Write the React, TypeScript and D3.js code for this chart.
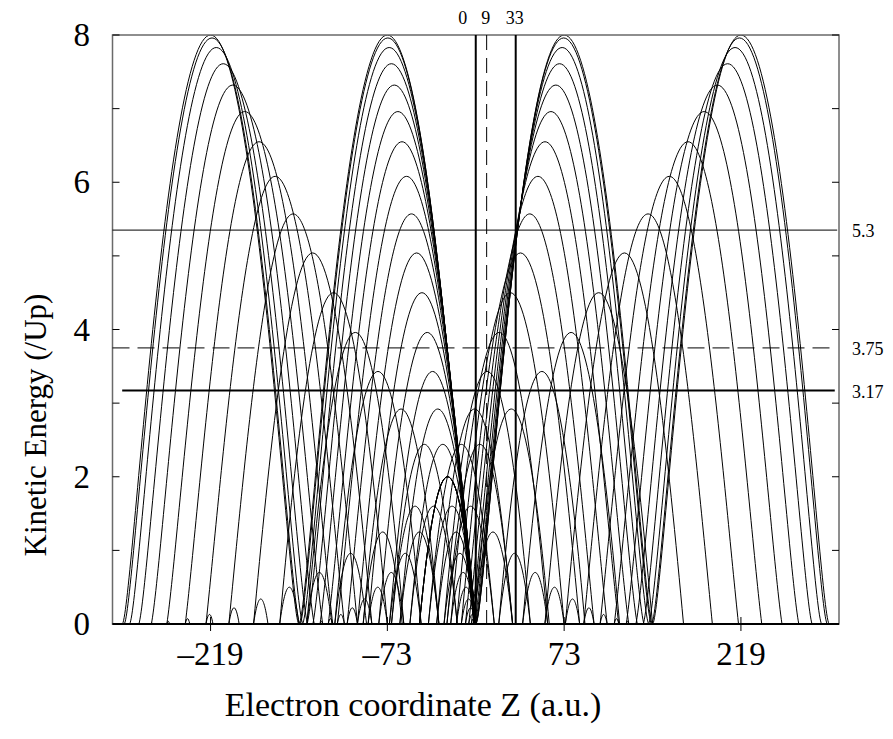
import React from "react";
import * as d3 from "d3";

// Classical electron trajectories, one per launch phase (90..270 deg, step 6).
// Each arc: [z where it starts, z where it ends, peak kinetic energy / Up]
const firstArcs: [number, number, number][] = [
  [0, -146, 8], [0, -145.2, 7.96], [0, -143.0, 7.83], [0, -139.3, 7.61], [0, -134.5, 7.32],
  [0, -128.6, 6.96], [0, -121.8, 6.55], [0, -114.3, 6.08], [0, -106.2, 5.57], [0, -97.7, 5.04],
  [0, -88.9, 4.5], [0, -80.1, 3.96], [0, -71.3, 3.43], [0, -62.7, 2.92], [0, -54.4, 2.44],
  [0, -46.5, 2.0], [0, -39.1, 1.6], [0, -32.3, 1.25], [0, -26.2, 0.96], [0, -20.7, 0.7],
  [0, -15.9, 0.5], [0, -11.9, 0.34], [0, -8.5, 0.22], [0, -5.8, 0.13], [0, -3.7, 0.073],
  [0, -2.2, 0.036], [0, -1.1, 0.015],
];

const secondArcs: [number, number, number][] = [
  [-134.5, -133.4, 0.015], [-128.6, -126.4, 0.036], [-121.8, -118.1, 0.073], [-114.3, -108.5, 0.13],
  [-106.2, -97.7, 0.22], [-97.7, -85.8, 0.34], [-88.9, -73.0, 0.5], [-80.1, -59.4, 0.7],
  [-71.3, -45.1, 0.96], [-62.7, -30.4, 1.25], [-54.4, -15.3, 1.6], [-46.5, 0, 2.0],
  [-39.1, 15.3, 2.44], [-32.3, 30.4, 2.92], [-26.2, 45.1, 3.43], [-20.7, 59.4, 3.96],
  [-15.9, 73.0, 4.5], [-11.9, 85.8, 5.04], [-8.5, 97.7, 5.57], [-5.8, 108.5, 6.08],
  [-3.7, 118.1, 6.55], [-2.2, 126.4, 6.96], [-1.1, 133.4, 7.32], [-0.5, 138.9, 7.61],
  [-0.1, 142.8, 7.83], [0, 145.2, 7.96], [0, 146, 8],
];

const thirdArcs: [number, number, number][] = [
  [-146, -292, 8], [-145.2, -290.4, 7.96], [-142.8, -285.8, 7.83], [-138.9, -278.2, 7.61],
  [-133.4, -267.9, 7.32], [-126.4, -255.1, 6.96], [-118.1, -239.9, 6.55], [-108.5, -222.8, 6.08],
  [-97.7, -203.9, 5.57], [-85.8, -183.5, 5.04], [-73.0, -161.9, 4.5], [-59.4, -139.5, 3.96],
  [-45.1, -116.4, 3.43], [-30.4, -93.0, 2.92], [-15.3, -69.6, 2.44], [0, -46.5, 2.0],
  [15.3, -23.8, 1.6], [30.4, -2.0, 1.25], [45.1, 19.0, 0.96], [59.4, 38.7, 0.7],
  [73.0, 57.1, 0.5], [85.8, 74.0, 0.34], [97.7, 89.2, 0.22], [108.5, 102.7, 0.13],
  [118.1, 114.4, 0.073], [126.4, 124.3, 0.036], [133.4, 132.3, 0.015],
];

const fourthArcs: [number, number, number][] = [
  [-267.9, -266.8, 0.015], [-255.1, -252.9, 0.036], [-239.9, -236.2, 0.073], [-222.8, -217.0, 0.13],
  [-203.9, -195.4, 0.22], [-183.5, -171.6, 0.34], [-161.9, -146.0, 0.5], [-139.5, -118.8, 0.7],
  [-116.4, -90.2, 0.96], [-93.0, -60.7, 1.25], [-69.6, -30.5, 1.6], [-46.5, 0, 2.0],
  [-23.8, 30.5, 2.44], [-2.0, 60.7, 2.92], [19.0, 90.2, 3.43], [38.7, 118.8, 3.96],
  [57.1, 146.0, 4.5], [74.0, 171.6, 5.04], [89.2, 195.4, 5.57], [102.7, 217.0, 6.08],
  [114.4, 236.2, 6.55], [124.3, 252.9, 6.96], [132.3, 266.8, 7.32], [138.4, 277.7, 7.61],
  [142.7, 285.6, 7.83], [145.2, 290.4, 7.96], [146, 292, 8],
];

const xTicks = [-219, -73, 73, 219];
const xTickLabels = ["\u2013219", "\u201373", "73", "219"];
const yTicks = [0, 1, 2, 3, 4, 5, 6, 7, 8];
const yTickLabels = ["0", "2", "4", "6", "8"];

// marked positions (vertical) and energy levels (horizontal)
const markZ = [0, 9, 33];
const markZLabels = ["0", "9", "33"];
const levels = [5.35, 3.75, 3.17];
const levelLabels = ["5.3", "3.75", "3.17"];

const W = 893, H = 739;
const x = d3.scaleLinear().domain([-300, 300]).range([112.5, 839]);
const y = d3.scaleLinear().domain([0, 8]).range([624, 35]);
const serif = "'Liberation Serif', 'Times New Roman', serif";

// symmetric arc drawn as two cubic pieces; higher arcs get the sharper
// (narrower in the middle) shape seen in the picture
function arcPath(a: number, b: number, e: number) {
  const zm = (a + b) / 2;
  const sp = Math.sqrt(e / 2) - 1;
  const w = sp > 0 ? sp * sp : 0;
  const p1 = 1 / 3 + (0.514 - 1 / 3) * w;
  const p2x = 2 / 3 + (0.896 - 2 / 3) * w;
  const p2y = (2 / 3) * (1 - w);
  const pt = (u: number, v: number, end: number): [number, number] => [x(zm + u * (end - zm)), y(v * e)];
  const p = d3.path();
  const f0 = pt(1, 0, a);
  p.moveTo(f0[0], f0[1]);
  let c1 = pt(p2x, p2y, a), c2 = pt(p1, 1, a), m = pt(0, 1, a);
  p.bezierCurveTo(c1[0], c1[1], c2[0], c2[1], m[0], m[1]);
  c1 = pt(p1, 1, b); c2 = pt(p2x, p2y, b); const f1 = pt(1, 0, b);
  p.bezierCurveTo(c1[0], c1[1], c2[0], c2[1], f1[0], f1[1]);
  return p.toString();
}

export default function App() {
  const arcs = [...firstArcs, ...secondArcs, ...thirdArcs, ...fourthArcs];
  const x0 = x(-300), x1 = x(300), yTop = y(8), yBot = y(0);
  const markOffsets = [-13, -1, -1];
  return (
    <svg width={W} height={H} style={{ position: "absolute", left: 0, top: 0, background: "#fff" }}>
      <rect x={0} y={0} width={W} height={H} fill="#fff" />
      <defs>
        <clipPath id="plot">
          <rect x={x0} y={yTop} width={x1 - x0} height={yBot - yTop} />
        </clipPath>
      </defs>
      <g clipPath="url(#plot)">
        {arcs.map((d, i) => (
          <path key={i} d={arcPath(d[0], d[1], d[2])} fill="none" stroke="#000" strokeWidth={1} />
        ))}
      </g>

      {/* frame */}
      <rect x={x0} y={yTop} width={x1 - x0} height={yBot - yTop} fill="none" stroke="#6a6a6a" strokeWidth={1.5} />
      <line x1={x0} x2={x1} y1={yBot} y2={yBot} stroke="#000" strokeWidth={2} />

      {/* y ticks */}
      {yTicks.map((t) => (
        <g key={t}>
          <line x1={x0} x2={x0 + 7} y1={y(t)} y2={y(t)} stroke="#000" strokeWidth={1} />
          <line x1={x1 - 7} x2={x1} y1={y(t)} y2={y(t)} stroke="#000" strokeWidth={1} />
        </g>
      ))}
      {yTickLabels.map((l) => (
        <text key={l} x={90} y={y(+l) + 11} textAnchor="end" fontFamily={serif} fontSize={33}>{l}</text>
      ))}

      {/* x ticks */}
      {xTicks.map((t, i) => (
        <g key={t}>
          <line x1={x(t)} x2={x(t)} y1={yBot - 7} y2={yBot + 7} stroke="#000" strokeWidth={1} />
          <text x={x(t)} y={665} textAnchor="middle" fontFamily={serif} fontSize={33}>{xTickLabels[i]}</text>
        </g>
      ))}

      {/* marked z positions */}
      {markZ.map((z, i) => (
        <g key={z}>
          <line x1={x(z)} x2={x(z)} y1={yTop} y2={yBot} stroke="#000"
            strokeWidth={i === 1 ? 1 : 2} strokeDasharray={i === 1 ? "15 8" : undefined} />
          <text x={x(z) + markOffsets[i]} y={24} textAnchor="middle" fontFamily={serif} fontSize={18}>{markZLabels[i]}</text>
        </g>
      ))}

      {/* energy levels */}
      {levels.map((v, i) => (
        <g key={v}>
          <line x1={i === 2 ? x(-292) : x0} x2={i === 2 ? x(296.5) : x(298.5)} y1={y(v)} y2={y(v)} stroke="#000"
            strokeWidth={i === 2 ? 2 : 1} strokeDasharray={i === 1 ? "17 8" : undefined} />
          <text x={852} y={y(v) + 7} fontFamily={serif} fontSize={18}>{levelLabels[i]}</text>
        </g>
      ))}

      {/* axis titles */}
      <text transform="translate(46,425) rotate(-90)" textAnchor="middle" fontFamily={serif} fontSize={31}>Kinetic Energy (/Up)</text>
      <text x={413} y={716} textAnchor="middle" fontFamily={serif} fontSize={34}>Electron coordinate Z (a.u.)</text>
    </svg>
  );
}
